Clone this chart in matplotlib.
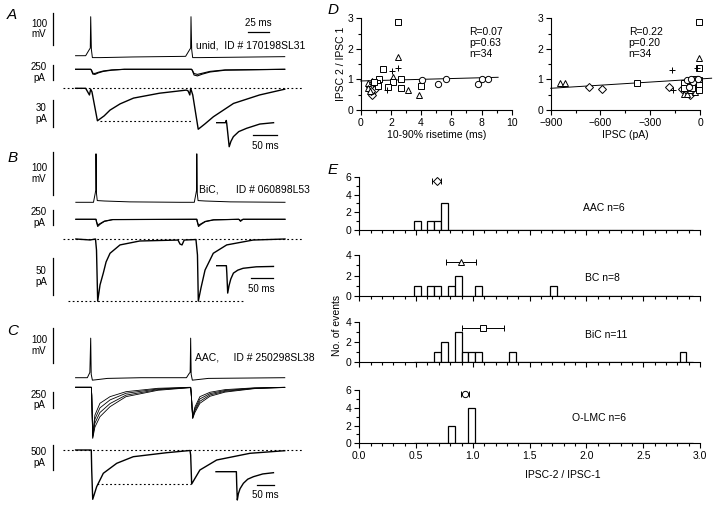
import numpy as np
import matplotlib
matplotlib.use('Agg')
import matplotlib.pyplot as plt
from matplotlib.ticker import MultipleLocator, FormatStrFormatter

plt.rcParams['font.family'] = ['Liberation Sans', 'DejaVu Sans']
plt.rcParams['font.size'] = 7.5

# ---------------- A: unidentified cell, ID 170198SL31 ----------------
vA_t = [-18, -6, -1.5, -0.5, 0, 0.8, 2, 12, 50, 113, 118, 119, 119.4, 120.2, 121.4, 131, 231]
vA_v = [-60, -60, -40, -36, 63, -40, -66, -66, -64, -62, -40, -36, 63, -40, -66, -66, -63]
cA_t = [-18, 0, 1, 2.5, 5, 9, 15, 25, 40, 119, 120, 121, 123, 127, 133, 142, 160, 231]
cA_1 = [0, 0, -20, -80, -85, -60, -35, -15, 0, 0, 0, -20, -95, -110, -80, -45, -15, 0]
cA_2 = [0, 0, -15, -65, -70, -50, -28, -10, 0, 0, 0, -15, -70, -85, -65, -35, -10, 0]
avgA_t = [-18, -6, -3, -1.5, 0, 1.5, 8, 16, 23, 35, 51, 82, 114, 116, 118, 119, 121.5,
          128, 136, 146, 170, 201, 231]
avgA_v = [0, 0, -5, -7.5, -1, -4, -36.5, -31, -24.5, -17.5, -11, -5.5, -2, -3, -7.5, 0, -7.5,
          -46, -40, -32, -17, -7.5, -1]
insA_t = [0, 18, 19.5, 20.5, 21.5, 25.5, 29, 34, 45, 61, 88, 116]
insA_v = [0, 0, 2.5, -1, -6, -27, -21, -15.7, -10, -6.3, -1.5, 0]

# ---------------- B: bistratified cell, ID 060898L53 ----------------
vB_t = [-24, -3, -1, -0.3, 0, 0.6, 1.5, 10, 40, 100, 117, 119, 119.7, 120, 120.6, 121.5, 130, 160, 225]
vB_v = [-60, -60, -40, -32, 52, -40, -56, -57, -59, -60, -60, -40, -32, 52, -40, -56, -57, -59, -60]
cB_t = [-24, 0, 0.5, 2, 5, 10, 20, 119.5, 120, 120.5, 122, 125, 130, 140, 170, 172, 175, 225]
cB_1 = [0, 0, -40, -120, -80, -35, -5, 0, 0, -40, -120, -85, -40, -10, 0, -35, 0, 0]
cB_2 = [0, 0, -30, -95, -70, -30, -4, 0, 0, -30, -100, -75, -35, -8, 0, -20, 0, 0]
avgB_t = [-24, -7, -0.6, 0.6, 2, 4.8, 8.7, 12, 16.7, 28.6, 52, 97.6, 100, 102.4, 105, 119,
          120.8, 121.8, 125, 129.8, 139.6, 155.6, 187, 225]
avgB_v = [0, -1.3, 0, -15, -84, -62, -46, -31, -19.3, -8, -2.7, -1.4, -6.8, -8, -1.4, -0.7,
          -21.6, -84, -66, -42, -19.3, -8, -1.4, 0]
insB_t = [0, 10, 22, 23, 25, 28, 32, 38, 48, 60, 90, 129]
insB_v = [0, 0, 0, -10, -37, -27, -18, -10, -6, -3.5, -1.5, -1]

# ---------------- C: axo-axonic cell, ID 250298SL38 ----------------
vC_t = [-18, -4, -1, 0, 0.6, 2, 6, 20, 60, 114, 117.5, 118.4, 119, 119.6, 121, 125, 140, 231]
vC_v = [-60, -60, -45, 53, -50, -67, -66, -62, -60, -60, -47, -45, 53, -50, -67, -66, -62, -60]
cC_t = [-18, 0.8, 1.2, 2.4, 5, 11, 23, 42, 80, 118, 119, 119.6, 121.4, 124, 130, 142, 160, 195, 231]
cC_1 = [0, 0, -120, -700, -420, -241, -141, -66, -15, 0, 0, -80, -440, -300, -141, -75, -35, -8, 0]
cC_2 = [0, 0, -120, -730, -480, -310, -190, -90, -25, -2, -2, -80, -455, -330, -175, -95, -48, -12, 0]
cC_3 = [0, 0, -120, -755, -540, -380, -245, -118, -35, -4, -4, -80, -465, -355, -210, -115, -60, -16, -2]
cC_4 = [0, 0, -120, -770, -600, -443, -292, -141, -45, -6, -6, -80, -470, -380, -241, -135, -72, -20, -3]
avgC_t = [-18, 0.7, 1.2, 2.4, 7.1, 15, 31, 50.7, 90.5, 118.2, 119, 120.2, 130, 150, 189.6, 231]
avgC_v = [0, 0, -400, -986, -734, -466, -266, -134, -54, -10, -100, -680, -400, -200, -66, -14]
insC_t = [0, 61, 62, 63.8, 67, 72, 82, 95, 112, 140, 172]
insC_v = [0, 0, -250, -566, -440, -340, -232, -150, -100, -45, -20]

# ---------------- D: paired-pulse ratio vs risetime / amplitude ----------------
d1_aac_x = [0.84, 0.73, 0.60, 0.95, 1.05, 0.70]
d1_aac_y = [0.82, 0.49, 0.75, 0.70, 0.88, 0.62]
d1_bc_x = [2.49, 2.16, 0.51, 0.51, 3.11, 3.89, 0.62, 0.72]
d1_bc_y = [1.74, 1.09, 0.89, 0.71, 0.67, 0.49, 0.63, 0.95]
d1_bic_x = [2.49, 1.50, 1.21, 2.67, 2.12, 1.06, 1.83, 2.67, 3.97, 1.15, 0.90]
d1_bic_y = [2.89, 1.34, 1.01, 1.01, 0.93, 0.87, 0.74, 0.71, 0.79, 0.80, 0.92]
d1_olm_x = [4.04, 5.14, 5.63, 7.79, 8.01, 8.41]
d1_olm_y = [0.98, 0.85, 1.02, 0.84, 1.00, 1.01]
d1_unid_x = [2.10, 2.49, 1.72]
d1_unid_y = [1.29, 1.38, 0.65]
fit1_x = [0, 9.1]
fit1_y = [0.95, 1.07]

d2_aac_x = [-667, -589, -187, -62, -40, -110]
d2_aac_y = [0.76, 0.69, 0.76, 0.49, 0.62, 0.70]
d2_bc_x = [-844, -814, -4, -98, -78, -30, -60, -20]
d2_bc_y = [0.89, 0.89, 1.71, 0.52, 0.52, 0.60, 0.65, 0.75]
d2_bic_x = [-98, -98, -48, -48, -6, -6, -6, -30, -382, -6, -6]
d2_bic_y = [0.87, 0.71, 0.87, 0.71, 0.98, 0.82, 0.65, 1.00, 0.87, 2.89, 1.38]
d2_olm_x = [-78, -18, -68, -40, -10, -55]
d2_olm_y = [0.98, 1.00, 0.76, 0.90, 1.01, 1.01]
d2_unid_x = [-171, -161, -20]
d2_unid_y = [1.31, 0.65, 1.38]
fit2_x = [-900, 70]
fit2_y = [0.71, 1.04]

# ---------------- E: distributions of IPSC-2 / IPSC-1 ----------------
groups = ['AAC', 'BC', 'BiC', 'O-LMC']
ratio_aac = [0.51, 0.63, 0.69, 0.75, 0.75, 0.75]
ratio_bc = [0.51, 0.63, 0.69, 0.81, 0.87, 0.87, 1.05, 1.71]
ratio_bic = [0.69, 0.75, 0.75, 0.87, 0.87, 0.87, 0.93, 0.99, 1.05, 1.35, 2.85]
ratio_olm = [0.81, 0.81, 0.99, 0.99, 0.99, 0.99]

W, H = 720, 508
fig = plt.figure(figsize=(7.2, 5.08), dpi=100)
KX = 0.84  # px per ms in the paired traces


def ftext(x, y, s, **kw):
    fig.text(x / W, 1 - y / H, s, **kw)


def trace_ax(xs, kx, yb, ky, vb=0.0):
    # full-figure transparent axes; xs/yb = pixel of t=0 / baseline
    ax = fig.add_axes([0, 0, 1, 1])
    ax.set_xlim(-xs / kx, (W - xs) / kx)
    ax.set_ylim(vb - (H - yb) / ky, vb + yb / ky)
    ax.axis('off')
    return ax


def tr(ax, t, v, lw=0.8):
    ax.plot(t, v, color='k', lw=lw, clip_on=False)


def vbar(ax, t, v0, v1, label, kx=KX):
    ax.plot([t, t], [v0, v1], color='k', lw=0.9)
    ax.text(t - 6 / kx, (v0 + v1) / 2, label, ha='right', va='center',
            multialignment='center', fontsize=7, linespacing=1.1)


def hbar(ax, t0, t1, v, vt, label):
    ax.plot([t0, t1], [v, v], color='k', lw=0.9)
    ax.text((t0 + t1) / 2, vt, label, ha='center', va='center', fontsize=7)


def dotted(ax, t0, t1, v):
    ax.plot([t0, t1], [v, v], color='k', lw=0.8, ls=(0, (1.6, 2.2)))


def peaks(t, v):
    t = np.asarray(t)
    v = np.asarray(v)
    return v[t < 100].min(), v[t > 100].min()


# ---- row A ----
ax = trace_ax(90.7, KX, 55.7, 0.317, vb=-60)
tr(ax, vA_t, vA_v, 0.7)
vbar(ax, -44.9, -26, 74, '100\nmV')
hbar(ax, 187.6, 212.6, 15.7, 43, '25 ms')
ax = trace_ax(90.7, KX, 69.3, 0.06)
tr(ax, cA_t, cA_1, 0.8)
tr(ax, cA_t, cA_2, 0.8)
vbar(ax, -44.9, -175, 75, '250\npA')
ax = trace_ax(90.7, KX, 88.3, 0.89)
tr(ax, avgA_t, avgA_v, 1.0)
vbar(ax, -44.9, -43, -13, '30\npA')
p1, p2 = peaks(avgA_t, avgA_v)
dotted(ax, -33.3, 251, 0)
dotted(ax, 11, 120, p1)
ax = trace_ax(216.7, 0.49, 122.7, 0.89)
tr(ax, insA_t, insA_v, 1.0)
hbar(ax, 73.5, 123.5, -13.8, -26.2, '50 ms')

# ---- row B ----
ax = trace_ax(96, KX, 202.3, 0.433, vb=-60)
tr(ax, vB_t, vB_v, 0.7)
vbar(ax, -51.2, -43, 57, '100\nmV')
ax = trace_ax(96, KX, 219.3, 0.06)
tr(ax, cB_t, cB_1, 0.8)
tr(ax, cB_t, cB_2, 0.8)
vbar(ax, -51.2, -95, 155, '250\npA')
ax = trace_ax(96, KX, 239, 0.74)
tr(ax, avgB_t, avgB_v, 1.0)
vbar(ax, -51.2, -76, -26, '50\npA')
p1, p2 = peaks(avgB_t, avgB_v)
dotted(ax, -39.6, 245, 0)
dotted(ax, -33, 177.4, p1)
ax = trace_ax(216.7, 0.44, 265.7, 0.74)
tr(ax, insB_t, insB_v, 1.0)
hbar(ax, 77.3, 127.3, -17, -31.5, '50 ms')

# ---- row C ----
ax = trace_ax(90.7, KX, 377.7, 0.35, vb=-60)
tr(ax, vC_t, vC_v, 0.7)
vbar(ax, -44.9, -17, 83, '100\nmV')
ax = trace_ax(90.7, KX, 387.3, 0.0664)
for sweep in (cC_1, cC_2, cC_3, cC_4):
    tr(ax, cC_t, sweep, 0.6)
vbar(ax, -44.9, -315, -65, '250\npA')
ax = trace_ax(90.7, KX, 450, 0.05)
tr(ax, avgC_t, avgC_v, 1.0)
vbar(ax, -44.9, -400, 100, '500\npA')
p1, p2 = peaks(avgC_t, avgC_v)
dotted(ax, -33.3, 251, 0)
dotted(ax, 7.1, 119, p2)
ax = trace_ax(216, 0.334, 471.7, 0.05)
tr(ax, insC_t, insC_v, 1.0)
hbar(ax, 123.7, 173.7, -266, -466, '50 ms')

ftext(196, 45, 'unid,  ID # 170198SL31', va='center', fontsize=7.5)
ftext(199, 190, 'BiC,      ID # 060898L53', va='center', fontsize=7.5)
ftext(195, 358, 'AAC,     ID # 250298SL38', va='center', fontsize=7.5)

for lab, x, y in [('A', 12, 15), ('B', 12.5, 158), ('C', 12.5, 331), ('D', 333, 10), ('E', 333, 170)]:
    ftext(x, y, lab, ha='center', va='center', fontsize=11, style='italic')


def style_ax(ax):
    for s in ('top', 'right'):
        ax.spines[s].set_visible(False)
    for s in ('left', 'bottom'):
        ax.spines[s].set_linewidth(0.8)
    ax.tick_params(which='both', direction='out', width=0.8, labelsize=7.5, pad=2)
    ax.tick_params(which='major', length=3.5)
    ax.tick_params(which='minor', length=2)


def box(left, top, right, bottom):
    return fig.add_axes([left / W, 1 - bottom / H, (right - left) / W, (bottom - top) / H])


mk = dict(ls='none', mfc='white', mec='k', mew=0.7, clip_on=False)

# ---- D left ----
ax = box(360.7, 18.3, 511.7, 110)
style_ax(ax)
ax.set_xlim(0, 10)
ax.set_ylim(0, 3)
ax.xaxis.set_major_locator(MultipleLocator(2))
ax.xaxis.set_minor_locator(MultipleLocator(1))
ax.yaxis.set_major_locator(MultipleLocator(1))
ax.yaxis.set_minor_locator(MultipleLocator(0.5))
ax.plot(fit1_x, fit1_y, color='k', lw=0.7, clip_on=False)
ax.plot(d1_aac_x, d1_aac_y, marker='D', ms=3.6, **mk)
ax.plot(d1_bc_x, d1_bc_y, marker='^', ms=4.6, **mk)
ax.plot(d1_bic_x, d1_bic_y, marker='s', ms=4.3, **mk)
ax.plot(d1_olm_x, d1_olm_y, marker='o', ms=4.5, **mk)
ax.plot(d1_unid_x, d1_unid_y, marker='+', ms=5, color='k', **mk)
ax.text(7.19, 2.73, 'R=0.07\np=0.63\nn=34', ha='left', va='top', fontsize=7.5, linespacing=1.15)
ax.set_xlabel('10-90% risetime (ms)', fontsize=7.5, labelpad=2)
ax.set_ylabel('IPSC 2 / IPSC 1', fontsize=7.5, labelpad=1)

# ---- D right ----
ax = box(550.7, 18.3, 700, 110)
style_ax(ax)
ax.set_xlim(-900, 0)
ax.set_ylim(0, 3)
ax.xaxis.set_major_locator(MultipleLocator(300))
ax.xaxis.set_minor_locator(MultipleLocator(150))
ax.yaxis.set_major_locator(MultipleLocator(1))
ax.yaxis.set_minor_locator(MultipleLocator(0.5))
ax.plot(fit2_x, fit2_y, color='k', lw=0.7, clip_on=False)
ax.plot(d2_aac_x, d2_aac_y, marker='D', ms=3.6, **mk)
ax.plot(d2_bc_x, d2_bc_y, marker='^', ms=4.6, **mk)
ax.plot(d2_bic_x, d2_bic_y, marker='s', ms=4.3, **mk)
ax.plot(d2_olm_x, d2_olm_y, marker='o', ms=4.5, **mk)
ax.plot(d2_unid_x, d2_unid_y, marker='+', ms=5, color='k', **mk)
ax.text(-430, 2.73, 'R=0.22\np=0.20\nn=34', ha='left', va='top', fontsize=7.5, linespacing=1.15)
ax.set_xlabel('IPSC (pA)', fontsize=7.5, labelpad=2)

# ---- E histograms ----
bins = np.round(np.arange(0.48, 2.95, 0.06), 2)
e_data = [ratio_aac, ratio_bc, ratio_bic, ratio_olm]
e_marker = ['D', '^', 's', 'o']
e_msize = [3.6, 4.6, 4.3, 4.5]
e_ytop = [6, 4, 4, 6]
e_mean_y = [5.58, 3.35, 3.45, 5.6]
e_label_pos = [(1.97, 2.5), (1.99, 1.8), (1.99, 2.7), (1.87, 2.85)]
e_rows = [(177, 230), (255, 296), (322, 362.3), (390, 443.3)]

for i, g in enumerate(groups):
    top, bot = e_rows[i]
    ax = box(359.3, top, 700, bot)
    style_ax(ax)
    vals = np.array(e_data[i])
    ax.hist(vals, bins=bins, facecolor='white', edgecolor='k', linewidth=0.9)
    m = vals.mean()
    sem = vals.std(ddof=1) / np.sqrt(len(vals))
    ax.errorbar([m], [e_mean_y[i]], xerr=[sem], fmt=e_marker[i], ms=e_msize[i],
                mfc='white', mec='k', mew=0.7, ecolor='k', elinewidth=0.7,
                capsize=2, capthick=0.7, clip_on=False)
    ax.set_xlim(0, 3.0)
    ax.set_ylim(0, e_ytop[i])
    ax.xaxis.set_major_locator(MultipleLocator(0.5))
    ax.xaxis.set_minor_locator(MultipleLocator(0.1))
    ax.yaxis.set_major_locator(MultipleLocator(2))
    ax.yaxis.set_minor_locator(MultipleLocator(1))
    lx, ly = e_label_pos[i]
    ax.text(lx, ly, '%s n=%d' % (g, len(vals)), ha='left', va='center', fontsize=7.5)
    if i < 3:
        ax.tick_params(labelbottom=False)
    else:
        ax.xaxis.set_major_formatter(FormatStrFormatter('%.1f'))

ftext(337, 325, 'No. of events', rotation=90, ha='center', va='center', fontsize=7.5)
ftext(563, 475, 'IPSC-2 / IPSC-1', ha='center', va='center', fontsize=7.5)

fig.savefig('out.png', dpi=100)
